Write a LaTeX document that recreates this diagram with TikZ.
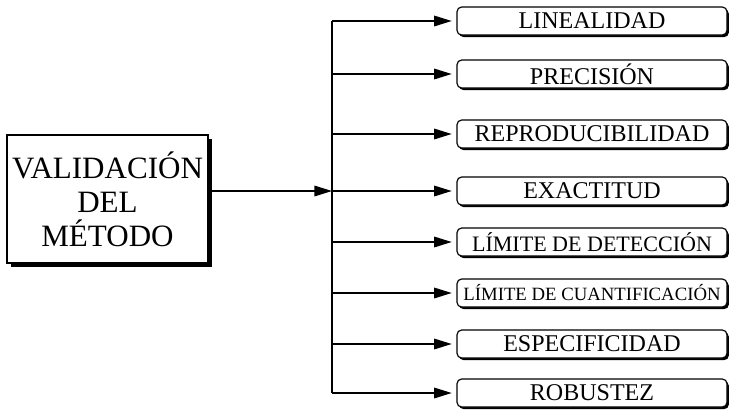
\documentclass[tikz,border=0pt]{standalone}
\usepackage{fontspec}
\setmainfont{Liberation Serif}
\usepackage{tikz}
\usetikzlibrary{arrows.meta,positioning,calc,shadows}
\tikzset{
  metodo/.style={rectangle, draw=black, fill=white, line width=1.3pt,
                 minimum width=6.03cm, minimum height=3.84cm, inner sep=0pt,
                 align=center, font=\fontsize{26.5}{29}\selectfont,
                 drop shadow={shadow xshift=3.4pt, shadow yshift=-3.4pt,
                              fill=black, opacity=1}},
  prueba/.style={rectangle, draw=black, fill=white, line width=1pt,
                 minimum width=8.1cm, minimum height=0.84cm, inner sep=0pt,
                 rounded corners=4pt, font=\fontsize{20.5}{24}\selectfont,
                 drop shadow={shadow xshift=1.6pt, shadow yshift=-1.8pt,
                              fill=black, opacity=1}},
  flecha/.style={-{Triangle[length=15pt, width=9pt]}, line width=1.3pt},
  linea/.style={line width=1.3pt}
}
\begin{document}
\begin{tikzpicture}[x=0.03cm, y=-0.03cm]
  \useasboundingbox (0,0) rectangle (731,411);
  \node[metodo] (val) at (107.5,199) {VALIDACIÓN\\DEL\\MÉTODO};
  \node[prueba] (lin) at (592,21) {LINEALIDAD};
  \node[prueba] (pre) at (592,74) {PRECISIÓN};
  \node[prueba] (rep) at (592,134) {REPRODUCIBILIDAD};
  \node[prueba] (exa) at (592,191) {EXACTITUD};
  \node[prueba, font=\fontsize{18.8}{22}\selectfont] (ldet) at (592,242) {LÍMITE DE DETECCIÓN};
  \node[prueba, font=\fontsize{16}{19}\selectfont] (lcua) at (592,293) {LÍMITE DE CUANTIFICACIÓN};
  \node[prueba] (esp) at (592,344) {ESPECIFICIDAD};
  \node[prueba] (rob) at (592,393) {ROBUSTEZ};
  \coordinate (tr) at (332,191);
  \draw[linea] (tr |- lin.west) -- (tr |- rob.west);
  \draw[flecha] (val.east |- exa.west) -- (tr |- exa.west);
  \foreach \b in {lin,pre,rep,exa,ldet,lcua,esp,rob}
    \draw[flecha, shorten >=4pt] (tr |- \b.west) -- (\b.west);
\end{tikzpicture}
\end{document}
